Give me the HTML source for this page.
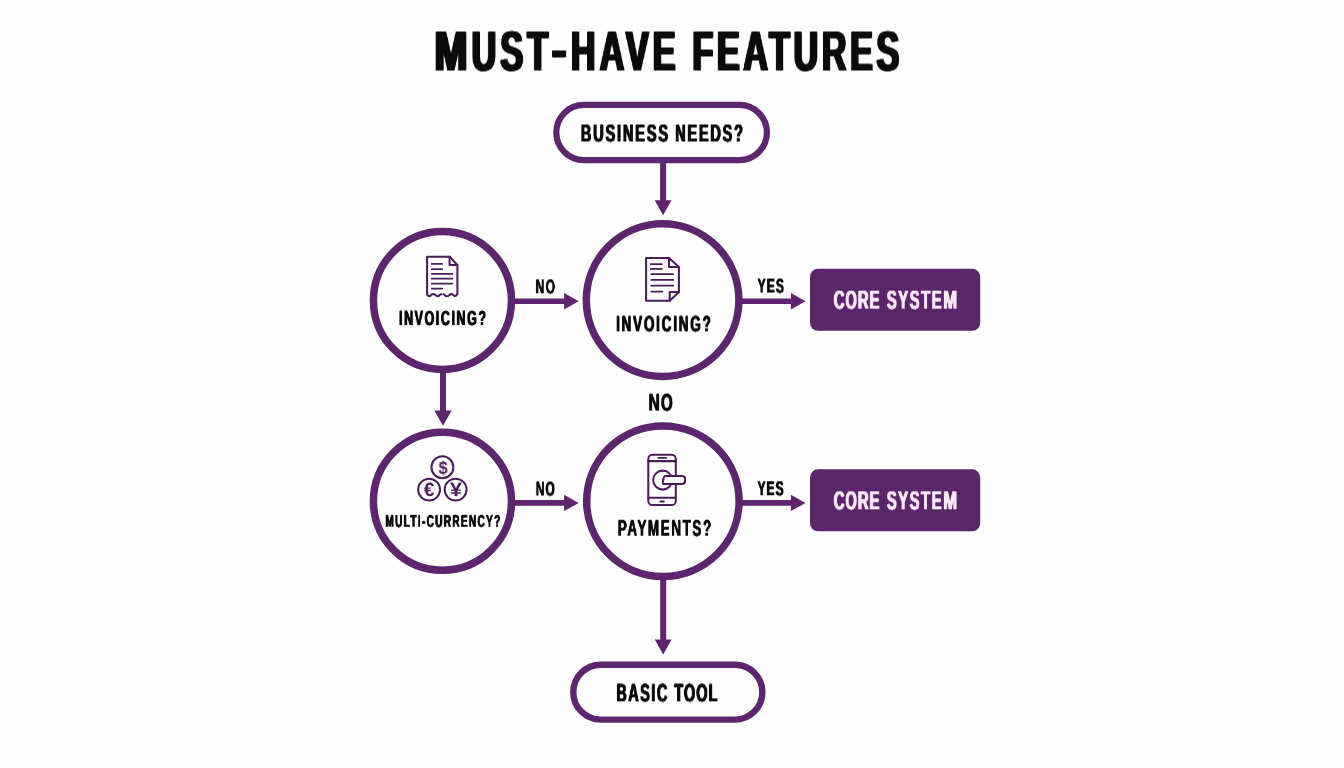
<!DOCTYPE html>
<html lang="en">
<head>
<meta charset="utf-8">
<title>Must-Have Features</title>
<style>
html,body{margin:0;padding:0;background:#fefefe;}
body{width:1344px;height:768px;overflow:hidden;position:relative;font-family:"Liberation Sans",sans-serif;}
svg{position:absolute;left:0;top:0;display:block;}
.lbl{position:absolute;left:0;top:0;width:0;height:0;margin:0;}
.s{position:absolute;width:40px;text-align:center;line-height:1;color:#4a1c5a;will-change:transform;text-rendering:geometricPrecision;}
.t{position:absolute;left:0;top:0;margin:0;white-space:nowrap;will-change:transform;font-weight:700;line-height:1;transform-origin:0 0;text-rendering:geometricPrecision;}
.w{display:inline-block;transform-origin:0 0;}
</style>
</head>
<body>
<main>
<svg width="1344" height="768" viewBox="0 0 1344 768" aria-hidden="true">
<g fill="none" stroke="#5c256d">
<rect x="556.3" y="104.9" width="210.6" height="55.2" rx="27.6" stroke-width="6.2"/>
<rect x="573.3" y="664.8" width="189" height="54.8" rx="27.4" stroke-width="6.4"/>
<circle cx="442.45" cy="300.4" r="69" stroke-width="7.5"/>
<circle cx="662.6" cy="300.1" r="76.3" stroke-width="7.5"/>
<circle cx="442.45" cy="501.2" r="69" stroke-width="7.5"/>
<ellipse cx="662.9" cy="501.2" rx="76.2" ry="75.3" stroke-width="7.5"/>
</g>
<g fill="#5b256a">
<rect x="810" y="268.8" width="170.2" height="62" rx="8"/>
<rect x="810" y="469.3" width="170.2" height="62" rx="8"/>
</g>
<g fill="#5c256d">
<path d="M660.1 162V200.2H654.7L663.1 215.2L671.5 200.2H666.1V162Z"/>
<path d="M440 372V410.6H434.3L443 425.8L451.7 410.6H446V372Z"/>
<path d="M660.2 579V639.5H654.8L663.2 654.5L671.6 639.5H666.2V579Z"/>
<path d="M514 298.5H564.1V293.1L578.7 301.3L564.1 309.5V304.1H514Z"/>
<path d="M741 298.5H790.9V293.1L805.5 301.3L790.9 309.5V304.1H741Z"/>
<path d="M514 500.1H564.1V494.7L578.7 502.9L564.1 511.1V505.7H514Z"/>
<path d="M741 500.1H790.9V494.7L805.5 502.9L790.9 511.1V505.7H741Z"/>
</g>
<g fill="none" stroke="#4a1c5a" stroke-width="2.05" stroke-linejoin="round" stroke-linecap="round">
<!-- invoice / receipt icon -->
<path d="M449.6 256.7H427.1V293.8Q427.1 296.1 429.6 296.1C431.35 296.1 431.35 293.9 433.1 293.9C435.4 293.9 435.4 296.1 437.7 296.1C439.5 296.1 439.5 294.3 441.3 294.3"/>
<path d="M443.4 294.3C445 294.3 445 296.3 446.6 296.3C449.05 296.3 449.05 294.1 451.5 294.1C453.4 294.1 453.4 296.1 455.3 296.1C456.35 296.1 456.35 294.3 457.4 294.3V265L449.6 256.7"/>
<path d="M449.6 256.7V265H457.4"/>
<path stroke-width="1.75" d="M431.8 263.9H442.2M431.8 269.2H442.2M431.8 273.9H452.4M431.8 278.7H452.4M431.8 283.6H452.4M431.8 288.6H442.2"/>
<!-- document icon -->
<path d="M669 257.9H646.1V300.8H669.7L678.9 292V266.9Z"/>
<path d="M669 257.9V266.9H678.9M678.9 292H669.7V300.8"/>
<path stroke-width="1.75" d="M650.8 264.2H661.8M650.8 268.9H661.8M651.2 274.1H673.2M651.2 279.9H673.2M651.2 285.7H673.2M651.2 291.6H662.4"/>
<!-- currency coins icon -->
<circle cx="442.4" cy="467.3" r="10.95" stroke-width="2"/>
<circle cx="429.1" cy="489.6" r="10.95" stroke-width="2"/>
<circle cx="455.6" cy="489.6" r="10.95" stroke-width="2"/>
<!-- phone payment icon -->
<rect x="648.3" y="454.8" width="27.5" height="50.3" rx="4.2"/>
<path d="M648.3 461.1H675.8M648.3 497.8H675.8"/>
<path stroke-width="1.75" d="M658.4 457.9H666.2"/>
<path stroke-width="2" d="M660.4 501.5H663.8"/>
<circle cx="662.7" cy="480.1" r="9.5"/>
<path fill="#fffaff" d="M665.6 475.9H682.2Q685 475.9 685 478.4V481.2Q685 484 682.2 484H664.2Q662.4 484 662.8 482.2L663.6 478Q664 475.9 665.6 475.9Z"/>
</g>

</svg>
<h1 class="t" style="font-size:56.35px;word-spacing:5.37px;transform:translate(434.47px,23.50px) scaleX(0.6050);color:#0b0b0b;text-shadow:2.07px 0 0 #0b0b0b,-2.07px 0 0 #0b0b0b,1.03px 0 0 #0b0b0b,-1.03px 0 0 #0b0b0b"><span style="letter-spacing:6.89px"><span class="w" style="transform:scaleX(1.16);margin-right:.133em">M</span>UST<span class="w" style="transform:translate(-.02em,-.03em) scaleX(1.27);margin-right:.09em">-</span>HAVE</span> <span style="letter-spacing:6.05px">FEATURES</span></h1>
<div class="t" style="font-size:24.23px;word-spacing:2.18px;transform:translate(580.84px,122.50px) scaleX(0.6000);color:#0b0b0b;text-shadow:0.83px 0 0 #0b0b0b,-0.83px 0 0 #0b0b0b,0.42px 0 0 #0b0b0b,-0.42px 0 0 #0b0b0b"><span style="letter-spacing:3.06px">BUSINESS</span> <span style="letter-spacing:2.93px">NEEDS?</span></div>
<div class="t" style="font-size:20.60px;transform:translate(399.05px,309.07px) scaleX(0.6000);color:#0b0b0b;text-shadow:0.75px 0 0 #0b0b0b,-0.75px 0 0 #0b0b0b,0.38px 0 0 #0b0b0b,-0.38px 0 0 #0b0b0b"><span style="letter-spacing:2.74px">INVOICING?</span></div>
<div class="t" style="font-size:22.20px;transform:translate(616.09px,313.36px) scaleX(0.6000);color:#0b0b0b;text-shadow:0.75px 0 0 #0b0b0b,-0.75px 0 0 #0b0b0b,0.38px 0 0 #0b0b0b,-0.38px 0 0 #0b0b0b"><span style="letter-spacing:3.14px">INVOICING?</span></div>
<div class="t" style="font-size:19.87px;transform:translate(535.63px,278.30px) scaleX(0.6000);color:#0b0b0b;text-shadow:0.55px 0 0 #0b0b0b,-0.55px 0 0 #0b0b0b,0.28px 0 0 #0b0b0b,-0.28px 0 0 #0b0b0b"><span style="letter-spacing:2.38px">NO</span></div>
<div class="t" style="font-size:19.87px;transform:translate(757.63px,277.52px) scaleX(0.6000);color:#0b0b0b;text-shadow:0.55px 0 0 #0b0b0b,-0.55px 0 0 #0b0b0b,0.28px 0 0 #0b0b0b,-0.28px 0 0 #0b0b0b"><span style="letter-spacing:1.98px">YES</span></div>
<div class="t" style="font-size:25.97px;word-spacing:4.00px;transform:translate(833.73px,287.66px) scaleX(0.5700);color:#f9e9fb;text-shadow:0.88px 0 0 #f9e9fb,-0.88px 0 0 #f9e9fb,0.44px 0 0 #f9e9fb,-0.44px 0 0 #f9e9fb"><span style="letter-spacing:1.69px">CORE</span> <span style="letter-spacing:2.77px">SYSTE<span class="w" style="transform:scaleX(1.13)">M</span></span></div>
<div class="t" style="font-size:24.01px;transform:translate(648.62px,391.62px) scaleX(0.6400);color:#0b0b0b;text-shadow:0.62px 0 0 #0b0b0b,-0.62px 0 0 #0b0b0b,0.31px 0 0 #0b0b0b,-0.31px 0 0 #0b0b0b"><span style="letter-spacing:1.73px">NO</span></div>
<div class="t" style="font-size:16.82px;transform:translate(385.42px,513.78px) scaleX(0.6000);color:#0b0b0b;text-shadow:0.58px 0 0 #0b0b0b,-0.58px 0 0 #0b0b0b,0.29px 0 0 #0b0b0b,-0.29px 0 0 #0b0b0b"><span style="letter-spacing:2.15px">MULTI-CURRENCY?</span></div>
<div class="t" style="font-size:22.49px;transform:translate(617.74px,517.75px) scaleX(0.6000);color:#0b0b0b;text-shadow:0.50px 0 0 #0b0b0b,-0.50px 0 0 #0b0b0b,0.25px 0 0 #0b0b0b,-0.25px 0 0 #0b0b0b"><span style="letter-spacing:2.59px">PAYMENTS?</span></div>
<div class="t" style="font-size:19.87px;transform:translate(535.82px,480.50px) scaleX(0.6000);color:#0b0b0b;text-shadow:0.55px 0 0 #0b0b0b,-0.55px 0 0 #0b0b0b,0.28px 0 0 #0b0b0b,-0.28px 0 0 #0b0b0b"><span style="letter-spacing:1.75px">NO</span></div>
<div class="t" style="font-size:20.16px;transform:translate(757.48px,479.19px) scaleX(0.6000);color:#0b0b0b;text-shadow:0.55px 0 0 #0b0b0b,-0.55px 0 0 #0b0b0b,0.28px 0 0 #0b0b0b,-0.28px 0 0 #0b0b0b"><span style="letter-spacing:1.62px">YES</span></div>
<div class="t" style="font-size:25.97px;word-spacing:4.07px;transform:translate(833.73px,488.29px) scaleX(0.5700);color:#f9e9fb;text-shadow:0.88px 0 0 #f9e9fb,-0.88px 0 0 #f9e9fb,0.44px 0 0 #f9e9fb,-0.44px 0 0 #f9e9fb"><span style="letter-spacing:1.68px">CORE</span> <span style="letter-spacing:2.74px">SYSTE<span class="w" style="transform:scaleX(1.13)">M</span></span></div>
<div class="t" style="font-size:24.96px;word-spacing:2.46px;transform:translate(616.27px,681.35px) scaleX(0.5800);color:#0b0b0b;text-shadow:0.86px 0 0 #0b0b0b,-0.86px 0 0 #0b0b0b,0.43px 0 0 #0b0b0b,-0.43px 0 0 #0b0b0b"><span style="letter-spacing:2.60px">BASIC</span> <span style="letter-spacing:1.84px">TOOL</span></div>
<div class="lbl" aria-hidden="true"><span class="s" style="left:422.50px;top:459.10px;font-size:18.2px;font-weight:700;transform:scaleX(0.9)">$</span><span class="s" style="left:408.80px;top:481.20px;font-size:19.2px;font-weight:700;transform:scaleX(0.98)">€</span><span class="s" style="left:435.70px;top:481.35px;font-size:19.5px;font-weight:700;transform:scaleX(1.1)">¥</span></div>
</main>
</body>
</html>
